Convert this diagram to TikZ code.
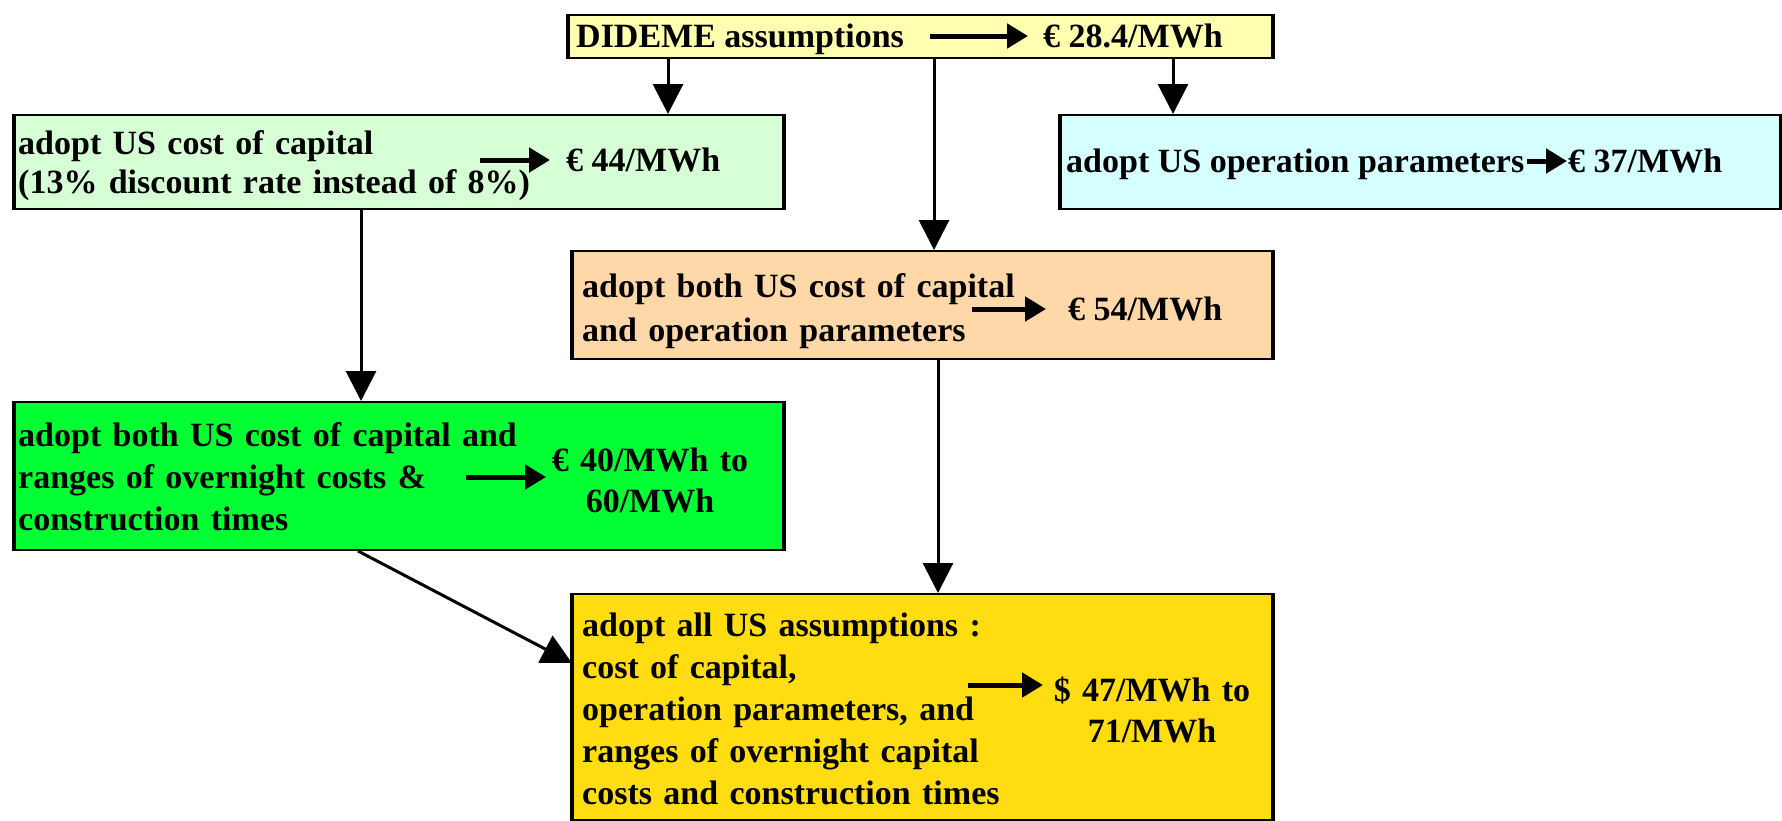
\documentclass[tikz,border=0pt]{standalone}
\usepackage{fontspec}
\setmainfont{Liberation Serif}
\usetikzlibrary{arrows.meta}
\definecolor{cDid}{RGB}{255,255,176}
\definecolor{cLg}{RGB}{214,255,214}
\definecolor{cCy}{RGB}{214,255,255}
\definecolor{cOr}{RGB}{255,216,170}
\definecolor{cGr}{RGB}{0,255,51}
\definecolor{cYe}{RGB}{255,221,17}
\begin{document}
\begin{tikzpicture}[x=1pt,y=-1pt,
  box/.style={draw=black, line width=2pt, rectangle, anchor=north west, inner sep=0pt},
  side/.style={line width=4pt},
  txt/.style={inner sep=0pt, anchor=base west, text width=#1, align=left,
    font=\bfseries\fontsize{34}{42}\selectfont},
  txt/.default=640pt,
  val/.style={inner sep=0pt, anchor=base west, font=\bfseries\fontsize{34}{42}\selectfont},
  cval/.style={inner sep=0pt, anchor=base, text width=260pt, align=center,
    font=\bfseries\fontsize{34}{41}\selectfont},
  conn/.style={line width=3pt, -{Triangle[length=30pt,width=30pt]}},
  inarr/.style={line width=5pt, -{Triangle[length=21pt,width=24pt]}}
]
\useasboundingbox (0,0) rectangle (1782,820);
\fill[white] (0,0) rectangle (1782,820);

% boxes
\node[box, fill=cDid, minimum width=703pt, minimum height=43pt] (did) at (568,14) {};
\node[box, fill=cLg, minimum width=768pt, minimum height=94pt] (lg) at (14,114) {};
\node[box, fill=cCy, minimum width=719pt, minimum height=94pt] (cy) at (1060,114) {};
\node[box, fill=cOr, minimum width=699pt, minimum height=108pt] (or) at (572,250) {};
\node[box, fill=cGr, minimum width=768pt, minimum height=148pt] (gr) at (14,401) {};
\node[box, fill=cYe, minimum width=699pt, minimum height=226pt] (ye) at (572,593) {};

\foreach \b in {did,lg,cy,or,gr,ye}{
  \draw[side] (\b.north west) -- (\b.south west);
  \draw[side] (\b.north east) -- (\b.south east);
}

% texts
\node[val] (didL) at (576,47) {DIDEME assumptions};
\node[val] (didR) at (1043,47) {€ 28.4/MWh};
\node[txt, font=\bfseries\fontsize{34}{39}\selectfont] (lgL) at (18,154)
  {adopt US cost of capital\\(13\% discount rate instead of 8\%)};
\node[val] (lgR) at (566,171) {€ 44/MWh};
\node[val] (cyL) at (1066,172) {adopt US operation parameters};
\node[val] (cyR) at (1568,172) {€ 37/MWh};
\node[txt, font=\bfseries\fontsize{34}{44}\selectfont] (orL) at (582,297)
  {adopt both US cost of capital\\and operation parameters};
\node[val] (orR) at (1068,320) {€ 54/MWh};
\node[txt] (grL) at (18,446)
  {adopt both US cost of capital and\\ranges of overnight costs \&\\construction times};
\node[cval] (grR) at (650,471) {€ 40/MWh to\\60/MWh};
\node[txt] (yeL) at (582,636)
  {adopt all US assumptions :\\cost of capital,\\operation parameters, and\\ranges of overnight capital\\costs and construction times};
\node[cval] (yeR) at (1152,701) {\$ 47/MWh to\\71/MWh};

% arrows inside boxes
\coordinate (didA) at (930,36);   \coordinate (didB) at (1028,36);
\coordinate (lgA) at (480,160);   \coordinate (lgB) at (550,160);
\coordinate (cyA) at (1527,161);  \coordinate (cyB) at (1567,161);
\coordinate (orA) at (972,309);   \coordinate (orB) at (1046,309);
\coordinate (grA) at (466,477);   \coordinate (grB) at (546,477);
\coordinate (yeA) at (968,685);   \coordinate (yeB) at (1043,685);
\foreach \b in {did,lg,cy,or,gr,ye}{
  \draw[inarr] (\b A) -- (\b B);
}

% connectors between boxes
\coordinate (x1) at (668,0);
\coordinate (x2) at (934,0);
\coordinate (x3) at (1173,0);
\coordinate (x4) at (361,0);
\coordinate (x5) at (938,0);
\coordinate (g1) at (358,0);
\coordinate (y1) at (0,663);
\draw[conn] (did.south -| x1) -- (lg.north -| x1);
\draw[conn] (did.south -| x2) -- (or.north -| x2);
\draw[conn] (did.south -| x3) -- (cy.north -| x3);
\draw[conn] (lg.south -| x4) -- (gr.north -| x4);
\draw[conn] (or.south -| x5) -- (ye.north -| x5);
\draw[conn] (gr.south -| g1) -- (ye.west |- y1);
\end{tikzpicture}
\end{document}
